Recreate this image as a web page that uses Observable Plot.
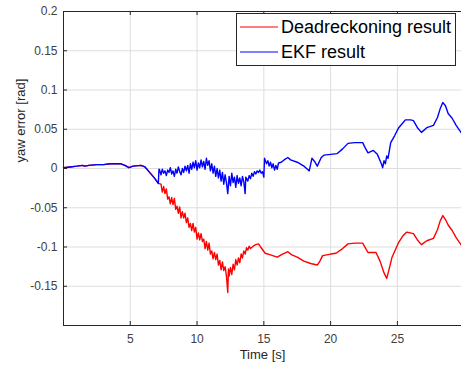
<!DOCTYPE html>
<html>
<head>
<meta charset="utf-8">
<script src="https://cdn.jsdelivr.net/npm/d3@7"></script>
<script src="https://cdn.jsdelivr.net/npm/@observablehq/plot@0.6"></script>
<style>
  html, body { margin: 0; padding: 0; background: #fff; }
  #wrap { position: relative; width: 461px; height: 369px; font-family: "Liberation Sans", Arial, sans-serif; }
  #legend { position: absolute; left: 236px; top: 13px; width: 220px; height: 53px; border: 1px solid #262626; background: #fff; box-sizing: border-box; }
  .row { position: absolute; left: 3px; height: 20px; display: flex; align-items: center; font-size: 18px; color: #000; white-space: nowrap; }
  .row svg { margin-right: 3px; }
</style>
</head>
<body>
<div id="wrap"></div>
<script>
// ---- data ----
const seriesNames = ["Deadreckoning result", "EKF result"];
const seriesColors = ["#ff0000", "#0000ff"];

const commonTime = [0, 0.5, 1, 1.4, 1.6, 1.9, 2.5, 3, 3.5, 4, 4.3, 4.6, 4.9, 5.2, 5.8, 6.1, 6.4, 6.8, 7.1];
const commonYaw  = [0.001, 0.002, 0.003, 0.004, 0.003, 0.004, 0.005, 0.005, 0.006, 0.006, 0.006, 0.004, 0.001, 0.003, 0.004, 0.002, -0.004, -0.012, -0.019];

const ekfTime = [7.15, 7.2, 7.3, 7.4, 7.5, 7.6, 7.7, 7.8, 7.9, 8.0, 8.1, 8.2, 8.3, 8.4, 8.5, 8.6, 8.7, 8.8, 8.9, 9.0,
  9.1, 9.2, 9.3, 9.4, 9.5, 9.6, 9.7, 9.8, 9.9, 10.0, 10.1, 10.2, 10.3, 10.4, 10.5, 10.6, 10.7, 10.8, 10.9, 11.0,
  11.1, 11.2, 11.3, 11.4, 11.5, 11.6, 11.7, 11.8, 11.9, 12.0, 12.1, 12.2, 12.3, 12.4, 12.5, 12.6, 12.7, 12.8, 12.9, 13.0,
  13.1, 13.2, 13.3, 13.4, 13.5, 13.6, 13.65, 13.8, 13.9, 14.0, 14.1, 14.2, 14.3, 14.4, 14.5, 14.6, 14.7, 14.8, 14.9, 15.0,
  15.05, 15.2, 15.3, 15.4, 15.5, 15.6, 15.7, 15.8, 15.9, 16.0, 16.1, 16.3, 16.6, 16.8, 17.0, 17.5, 18.0, 18.2, 18.4, 18.6,
  18.8, 19.0, 19.3, 19.5, 20.0, 20.5, 20.9, 21.3, 21.8, 22.4, 22.6, 22.8, 23.2, 23.5, 23.8, 23.9, 24.0, 24.1, 24.2, 24.3,
  24.5, 24.8, 25.1, 25.4, 25.6, 26.0, 26.2, 26.5, 26.8, 27.2, 27.7, 28.0, 28.2, 28.4, 28.6, 28.8, 29.1, 29.4, 29.8];
const ekfYaw = [-0.001, -0.002, -0.008, -0.001, -0.006, -0.003, -0.009, -0.002, -0.005, 0.001, -0.007, -0.003, -0.010, -0.001, -0.006, 0.002, -0.004, -0.008, 0.000, -0.005,
  0.003, -0.003, 0.004, -0.006, 0.006, -0.001, 0.008, 0.001, 0.010, -0.002, 0.007, 0.001, 0.011, 0.002, 0.009, -0.001, 0.013, 0.004, 0.010, -0.003,
  0.006, -0.006, 0.003, -0.010, 0.000, -0.012, -0.002, -0.016, -0.005, -0.020, -0.008, -0.018, -0.032, -0.010, -0.022, -0.006, -0.018, -0.011, -0.024, -0.009,
  -0.019, -0.012, -0.022, -0.010, -0.017, -0.032, -0.011, -0.016, -0.009, -0.013, -0.006, -0.010, -0.004, -0.007, -0.003, -0.005, -0.002, -0.006, -0.004, -0.011,
  0.013, 0.006, 0.010, 0.003, 0.008, 0.001, 0.006, -0.002, 0.004, -0.001, 0.007, 0.008, 0.012, 0.014, 0.011, 0.008, 0.003, 0.000, -0.003, 0.013,
  0.009, 0.003, 0.014, 0.017, 0.018, 0.019, 0.025, 0.032, 0.033, 0.033, 0.026, 0.020, 0.023, 0.018, 0.006, 0.001, 0.010, 0.006, 0.016, 0.013,
  0.033, 0.042, 0.052, 0.058, 0.062, 0.062, 0.061, 0.052, 0.046, 0.052, 0.055, 0.065, 0.076, 0.084, 0.080, 0.070, 0.064, 0.055, 0.045];

const drTime = [7.3, 7.4, 7.5, 7.6, 7.7, 7.8, 7.9, 8.0, 8.1, 8.2, 8.3, 8.4, 8.5, 8.6, 8.7, 8.8, 8.9, 9.0,
  9.1, 9.2, 9.3, 9.4, 9.5, 9.6, 9.7, 9.8, 9.9, 10.0, 10.1, 10.2, 10.3, 10.4, 10.5, 10.6, 10.7, 10.8, 10.9, 11.0,
  11.1, 11.2, 11.3, 11.4, 11.5, 11.6, 11.7, 11.8, 11.9, 12.0, 12.1, 12.2, 12.3, 12.35, 12.4, 12.5, 12.6, 12.7, 12.8, 12.9, 13.0,
  13.1, 13.2, 13.3, 13.4, 13.5, 13.6, 13.7, 13.8, 13.9, 14.0, 14.2, 14.4, 14.6, 14.8, 15.1, 15.5, 16.0, 16.4, 16.8, 17.1, 17.5,
  18.0, 18.5, 19.0, 19.2, 19.4, 20.0, 20.4, 20.9, 21.3, 21.8, 22.4, 22.6, 22.8, 23.4, 23.7, 24.0, 24.2, 24.4, 24.6, 25.1,
  25.4, 25.7, 26.2, 26.5, 26.8, 27.2, 27.7, 28.0, 28.2, 28.4, 28.6, 28.8, 29.1, 29.4, 29.8];
const drYaw = [-0.020, -0.030, -0.023, -0.032, -0.026, -0.039, -0.036, -0.045, -0.037, -0.046, -0.038, -0.052, -0.048, -0.057, -0.049, -0.063, -0.055, -0.063,
  -0.057, -0.069, -0.063, -0.075, -0.070, -0.079, -0.070, -0.081, -0.075, -0.090, -0.082, -0.091, -0.083, -0.093, -0.090, -0.102, -0.093, -0.104, -0.095, -0.109,
  -0.105, -0.115, -0.107, -0.116, -0.109, -0.123, -0.117, -0.129, -0.119, -0.130, -0.125, -0.137, -0.158, -0.128, -0.137, -0.126, -0.135, -0.122, -0.129, -0.116, -0.123,
  -0.114, -0.120, -0.109, -0.114, -0.105, -0.109, -0.101, -0.104, -0.099, -0.102, -0.099, -0.097, -0.096, -0.101, -0.108, -0.110, -0.113, -0.109, -0.106, -0.110, -0.113,
  -0.118, -0.121, -0.123, -0.118, -0.111, -0.109, -0.108, -0.102, -0.096, -0.095, -0.095, -0.101, -0.107, -0.107, -0.118, -0.133, -0.140, -0.127, -0.113, -0.094,
  -0.086, -0.081, -0.083, -0.091, -0.097, -0.092, -0.089, -0.078, -0.067, -0.060, -0.065, -0.072, -0.079, -0.088, -0.098];

const xTicks = [5, 10, 15, 20, 25];
const yTicks = [-0.15, -0.1, -0.05, 0, 0.05, 0.1, 0.15, 0.2];
const xDomain = [0, 29.8];
const yDomain = [-0.2, 0.2];
const xLabel = "Time [s]";
const yLabel = "yaw error [rad]";

// ---- build tables ----
const common = commonTime.map((t, i) => ({t, v: commonYaw[i]}));
const dr = common.concat(drTime.map((t, i) => ({t, v: drYaw[i]})));
const ekf = common.concat(ekfTime.map((t, i) => ({t, v: ekfYaw[i]})));

const axisColor = "#262626";
const gridColor = "#dedede";
const fmt = d => String(+d.toFixed(2));

const chart = Plot.plot({
  width: 461,
  height: 369,
  marginLeft: 63,
  marginRight: 0,
  marginTop: 11,
  marginBottom: 44,
  style: {fontFamily: '"Liberation Sans", Arial, sans-serif', background: "#fff"},
  x: {domain: xDomain},
  y: {domain: yDomain},
  marks: [
    Plot.gridX(xTicks, {stroke: gridColor, strokeOpacity: 1}),
    Plot.gridY(yTicks, {stroke: gridColor, strokeOpacity: 1}),
    Plot.line(dr, {x: "t", y: "v", stroke: seriesColors[0], strokeWidth: 1.4}),
    Plot.line(ekf, {x: "t", y: "v", stroke: seriesColors[1], strokeWidth: 1.4}),
    // frame lines
    Plot.ruleY([yDomain[0]], {stroke: axisColor, strokeWidth: 1}),
    Plot.ruleY([yDomain[1]], {stroke: axisColor, strokeWidth: 1}),
    Plot.ruleX([xDomain[0]], {stroke: axisColor, strokeWidth: 1}),
    // inward ticks
    Plot.ruleX(xTicks, {x: d => d, y1: yDomain[0], y2: yDomain[0], insetTop: -4, stroke: axisColor}),
    Plot.ruleX(xTicks, {x: d => d, y1: yDomain[1], y2: yDomain[1], insetBottom: -4, stroke: axisColor}),
    Plot.ruleY(yTicks, {y: d => d, x1: xDomain[0], x2: xDomain[0], insetRight: -4, stroke: axisColor}),
    // tick labels
    Plot.axisX(xTicks, {tickSize: 0, tickPadding: 9, label: null, fontSize: 12, color: "#404040"}),
    Plot.axisY(yTicks, {tickSize: 0, tickPadding: 6, label: null, fontSize: 12, color: "#404040", tickFormat: fmt}),
    // axis titles
    Plot.text([xLabel], {frameAnchor: "bottom", dy: 33, fontSize: 13, fill: "#262626"}),
    Plot.text([yLabel], {frameAnchor: "left", dx: -43, dy: -6, rotate: -90, fontSize: 13, fill: "#262626"})
  ]
});

const wrap = document.getElementById("wrap");
wrap.appendChild(chart);

// legend
const legend = document.createElement("div");
legend.id = "legend";
seriesNames.forEach((name, i) => {
  const row = document.createElement("div");
  row.className = "row";
  row.style.top = (i === 0 ? 3 : 28) + "px";
  row.innerHTML = `<svg width="38" height="4"><line x1="0" y1="2" x2="38" y2="2" stroke="${seriesColors[i]}" stroke-width="1.2"/></svg><span>${name}</span>`;
  legend.appendChild(row);
});
wrap.appendChild(legend);
</script>
</body>
</html>
